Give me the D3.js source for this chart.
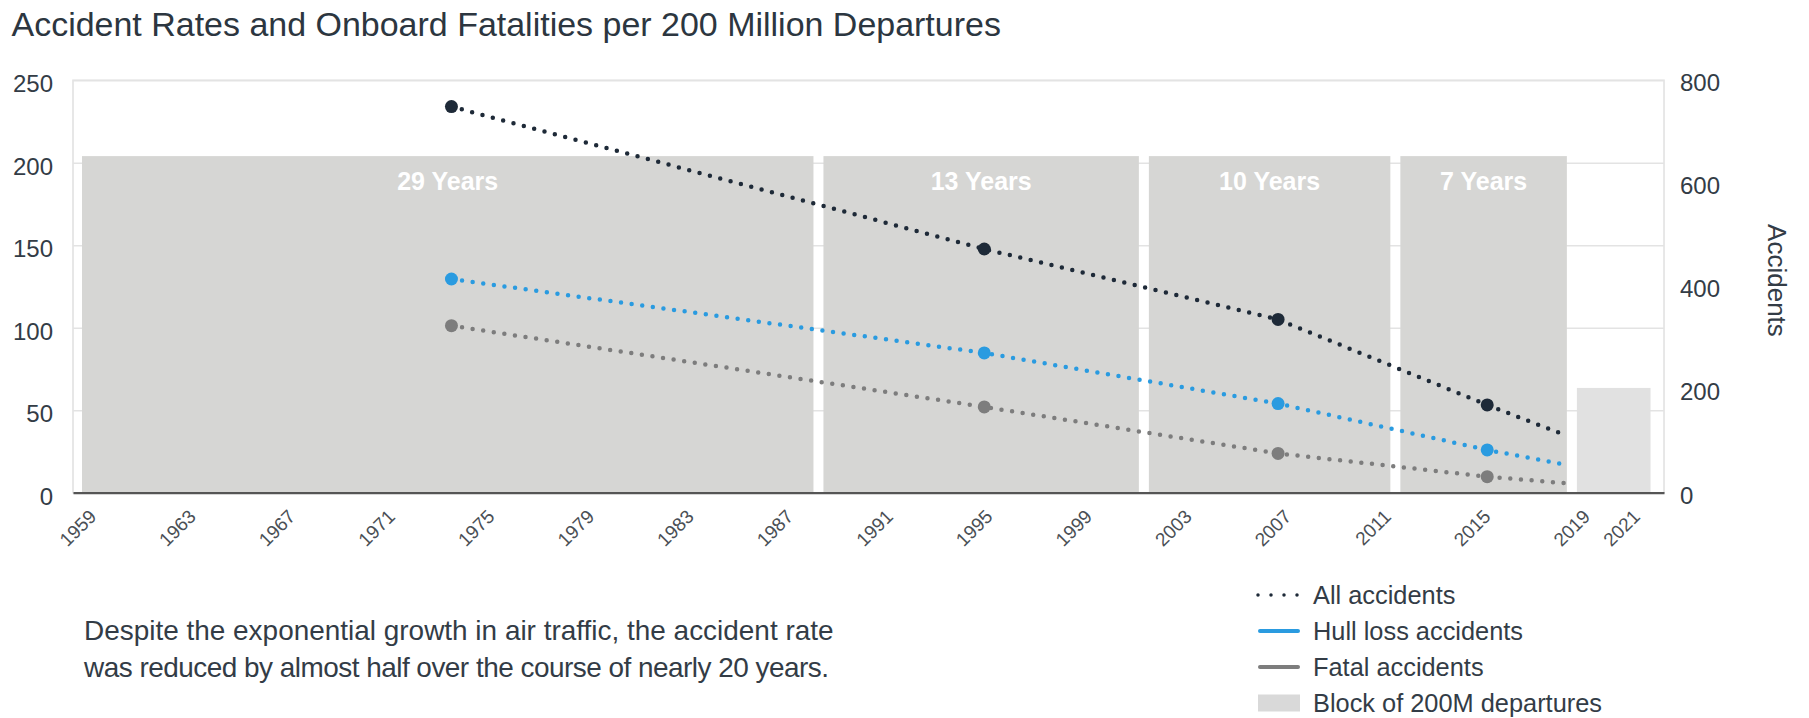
<!DOCTYPE html>
<html>
<head>
<meta charset="utf-8">
<script src="https://cdn.jsdelivr.net/npm/d3@7"></script>
<style>
  body { margin: 0; background: #fff; }
  svg text { font-family: "Liberation Sans", Arial, Helvetica, sans-serif; }
</style>
</head>
<body>
<div id="chart"></div>
<script>
// ---- data ----
var pointYears = [1973.4, 1994.8, 2006.6, 2015.0, 2018.2];
var allAccidents = [234, 147.7, 105, 53.2, 34.5];
var hullLoss = [129.5, 84.7, 54, 25.9, 16.8];
var fatalAccidents = [101.2, 52, 23.8, 9.7, 5.7];
var hasMarker = [true, true, true, true, false];

// blocks of 200M departures (year boundaries, height on left axis)
var blockStart = [1958.36, 1988.14, 2001.21, 2011.31, 2018.4];
var blockEnd = [1988.14, 2001.21, 2011.31, 2018.4, 2021.76];
var blockHeight = [204, 204, 204, 204, 63.5];
var blockLabels = ['29 Years', '13 Years', '10 Years', '7 Years', ''];

var yearTicks = [1959, 1963, 1967, 1971, 1975, 1979, 1983, 1987, 1991, 1995, 1999, 2003, 2007, 2011, 2015, 2019, 2021];
var leftTicks = [0, 50, 100, 150, 200, 250];
var rightTicks = [0, 200, 400, 600, 800];

var legendLabels = ['All accidents', 'Hull loss accidents', 'Fatal accidents', 'Block of 200M departures'];
var annotationLines = [
  'Despite the exponential growth in air traffic, the accident rate',
  'was reduced by almost half over the course of nearly 20 years.'
];
var annotationWidths = [750, 745];

// ---- sizes ----
var width = 1809;
var height = 718;
var margin = { top: 80.2, left: 73, right: 145, bottom: 225.3 };
var w = width - margin.left - margin.right;
var h = height - margin.top - margin.bottom;

var textColor = '#333c46';
var darkColor = '#1e2a38';
var blueColor = '#2a9be0';
var grayColor = '#7d7d7d';

var svg = d3.select('#chart').append('svg')
  .attr('width', width)
  .attr('height', height);

// fit a text element to a width
function fitWidth(sel, target) {
  var len = sel.node().getComputedTextLength();
  var fs = parseFloat(sel.style('font-size'));
  var size = fs * target / len;
  sel.style('font-size', size + 'px');
  return size;
}

var title = svg.append('text')
  .attr('x', 11.5)
  .attr('y', 36)
  .attr('fill', '#2c3640')
  .style('font-size', '32px')
  .text('Accident Rates and Onboard Fatalities per 200 Million Departures');
fitWidth(title, 990);

var g = svg.append('g')
  .attr('transform', 'translate(' + margin.left + ',' + margin.top + ')');

var x = d3.scaleLinear().domain([1958.2, 2022.1]).range([0, w]);
var y = d3.scaleLinear().domain([0, 250]).range([h, 0]);
var yRight = d3.scaleLinear().domain([0, 800]).range([h, 0]);

// frame
g.append('rect')
  .attr('width', w)
  .attr('height', h)
  .attr('fill', 'none')
  .attr('stroke', '#e0e0e0')
  .attr('stroke-width', 1.5);

// gridlines
var grid = g.append('g')
  .call(d3.axisLeft(y).tickValues(leftTicks).tickSize(-w).tickFormat(''));
grid.select('.domain').remove();
grid.selectAll('line').attr('stroke', '#e3e3e3').attr('stroke-width', 1.5);

// blocks
var blockIdx = d3.range(blockStart.length);
var inset = 5;
g.selectAll('.block')
  .data(blockIdx)
  .enter().append('rect')
  .attr('class', 'block')
  .attr('x', function (i) { return x(blockStart[i]) + inset; })
  .attr('width', function (i) { return x(blockEnd[i]) - x(blockStart[i]) - 2 * inset; })
  .attr('y', function (i) { return y(blockHeight[i]); })
  .attr('height', function (i) { return h - y(blockHeight[i]); })
  .attr('fill', function (i) { return i < 4 ? '#d6d6d4' : '#e1e1e1'; });

g.selectAll('.block-label')
  .data(blockIdx)
  .enter().append('text')
  .attr('class', 'block-label')
  .attr('x', function (i) { return (x(blockStart[i]) + x(blockEnd[i])) / 2; })
  .attr('y', y(blockHeight[0]) + 34)
  .attr('text-anchor', 'middle')
  .attr('fill', '#fff')
  .style('font-size', '25px')
  .style('font-weight', 'bold')
  .text(function (i) { return blockLabels[i]; });

// left axis
var leftAxis = g.append('g')
  .call(d3.axisLeft(y).tickValues(leftTicks).tickSize(0).tickPadding(20));
leftAxis.select('.domain').remove();
leftAxis.selectAll('text')
  .attr('dy', '0.35em')
  .attr('y', 3)
  .attr('fill', textColor)
  .style('font-size', '24px');

// right axis
var rightAxis = g.append('g')
  .attr('transform', 'translate(' + w + ',0)')
  .call(d3.axisRight(yRight).tickValues(rightTicks).tickSize(0).tickPadding(16));
rightAxis.select('.domain').remove();
rightAxis.selectAll('text')
  .attr('dy', '0.35em')
  .attr('y', 2)
  .attr('fill', textColor)
  .style('font-size', '24px');

g.append('text')
  .attr('transform', 'translate(' + (w + 113) + ',' + (h / 2 - 6) + ') rotate(90)')
  .attr('text-anchor', 'middle')
  .attr('dy', '0.35em')
  .attr('fill', textColor)
  .style('font-size', '26px')
  .text('Accidents');

// bottom axis
var bottomAxis = g.append('g')
  .attr('transform', 'translate(0,' + h + ')')
  .call(d3.axisBottom(x).tickValues(yearTicks).tickFormat(d3.format('d')).tickSize(0));
bottomAxis.select('.domain')
  .attr('stroke', '#555')
  .attr('stroke-width', 2.2);
bottomAxis.selectAll('text')
  .attr('x', 0)
  .attr('y', 0)
  .attr('dy', 0)
  .attr('text-anchor', 'end')
  .attr('transform', 'translate(4,25) rotate(-45)')
  .attr('fill', '#4a4f55')
  .style('font-size', '19px');

// dotted series
var series = [
  { values: allAccidents, color: darkColor },
  { values: hullLoss, color: blueColor },
  { values: fatalAccidents, color: grayColor }
];

var line = d3.line()
  .x(function (d) { return x(d.year); })
  .y(function (d) { return y(d.value); });

series.forEach(function (s) {
  var pts = pointYears.map(function (yr, i) {
    return { year: yr, value: s.values[i], marker: hasMarker[i] };
  });
  g.append('path')
    .datum(pts)
    .attr('d', line)
    .attr('fill', 'none')
    .attr('stroke', s.color)
    .attr('stroke-width', 4.5)
    .attr('stroke-linecap', 'round')
    .attr('stroke-dasharray', '0 10.7');
  g.selectAll(null)
    .data(pts.filter(function (d) { return d.marker; }))
    .enter().append('circle')
    .attr('cx', function (d) { return x(d.year); })
    .attr('cy', function (d) { return y(d.value); })
    .attr('r', 6.5)
    .attr('fill', s.color);
});

// legend
var legend = svg.append('g').attr('transform', 'translate(1258,595)');
var legendRows = legend.selectAll('.row')
  .data(legendLabels)
  .enter().append('g')
  .attr('class', 'row')
  .attr('transform', function (d, i) { return 'translate(0,' + (i * 36) + ')'; });

legendRows.each(function (d, i) {
  var row = d3.select(this);
  if (i === 0) {
    row.append('path')
      .attr('d', 'M0,0H40')
      .attr('stroke', darkColor)
      .attr('stroke-width', 3.5)
      .attr('stroke-linecap', 'round')
      .attr('stroke-dasharray', '0 13');
  } else if (i < 3) {
    row.append('path')
      .attr('d', 'M2,0H40')
      .attr('stroke', i === 1 ? blueColor : grayColor)
      .attr('stroke-width', 4)
      .attr('stroke-linecap', 'round');
  } else {
    row.append('rect')
      .attr('x', 0)
      .attr('y', -8.5)
      .attr('width', 42)
      .attr('height', 17)
      .attr('fill', '#d9d9d9');
  }
});

var legendTexts = legendRows.append('text')
  .attr('x', 55)
  .attr('dy', '0.35em')
  .attr('fill', textColor)
  .style('font-size', '25px')
  .text(function (d) { return d; });
var legendSize = fitWidth(d3.select(legendTexts.nodes()[3]), 289);
legendTexts.style('font-size', legendSize + 'px');

// annotation
var notes = svg.append('g').selectAll('text')
  .data(annotationLines)
  .enter().append('text')
  .attr('x', 84)
  .attr('y', function (d, i) { return 640 + i * 37; })
  .attr('fill', textColor)
  .style('font-size', '23px')
  .text(function (d) { return d; });
var noteSize = fitWidth(d3.select(notes.nodes()[0]), annotationWidths[0]);
notes.style('font-size', noteSize + 'px');
notes.filter(function (d, i) { return i === 1; })
  .attr('textLength', annotationWidths[1])
  .attr('lengthAdjust', 'spacing');
</script>
</body>
</html>
